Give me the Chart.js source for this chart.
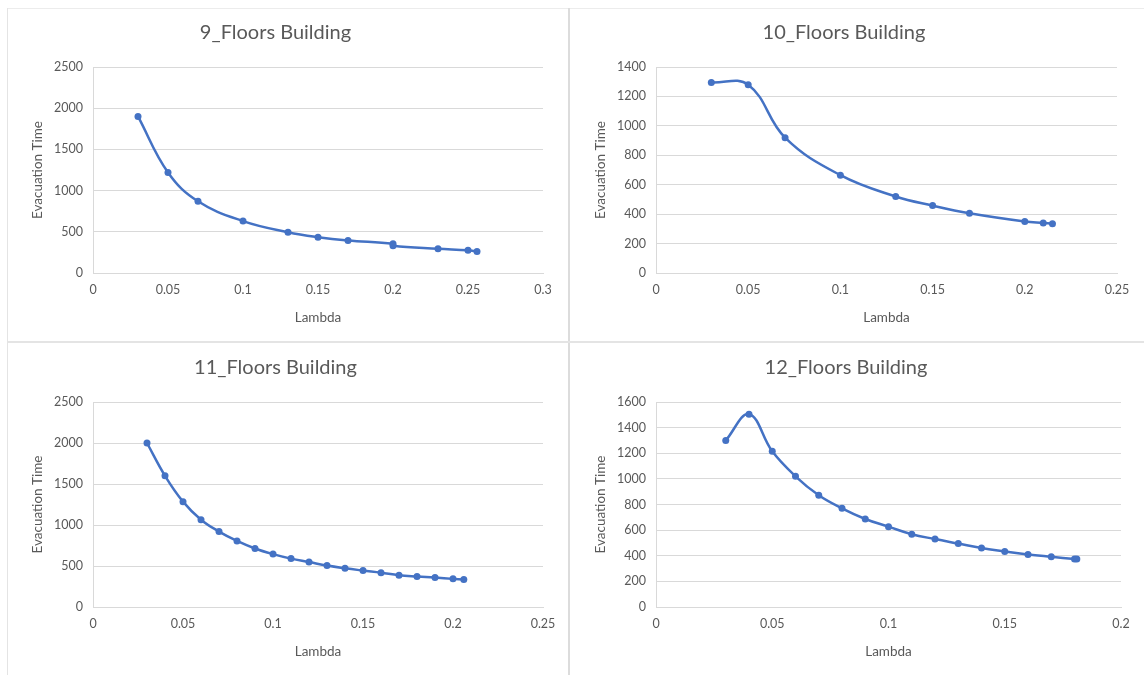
<!DOCTYPE html>
<html>
<head>
<meta charset="utf-8">
<script src="https://cdn.jsdelivr.net/npm/chart.js@4.4.0/dist/chart.umd.min.js"></script>
<style>
    body { margin: 0; background: #fff; }
    #wrap { position: relative; width: 1144px; height: 675px; overflow: hidden; background: #fff; }
    .panel { position: absolute; }
    .rule { position: absolute; background: #dcdcdc; }
</style>
</head>
<body>
<div id="wrap">
    <div class="rule" style="left:7px;top:8px;width:1137px;height:1px;background:#ececec"></div>
    <div class="rule" style="left:7px;top:8px;width:1px;height:667px;background:#e4e4e4"></div>
    <div class="rule" style="left:568px;top:8px;width:2px;height:667px"></div>
    <div class="rule" style="left:7px;top:341px;width:1137px;height:2px;background:#e4e4e4"></div>

    <div class="panel" style="left:8px;top:9px"><canvas id="chart9" width="560" height="332"></canvas></div>
    <div class="panel" style="left:571px;top:9px"><canvas id="chart10" width="573" height="332"></canvas></div>
    <div class="panel" style="left:8px;top:344px"><canvas id="chart11" width="560" height="331"></canvas></div>
    <div class="panel" style="left:571px;top:344px"><canvas id="chart12" width="573" height="331"></canvas></div>
</div>
<script>
// 9 floors
const lambda9 = [0.03, 0.05, 0.07, 0.1, 0.13, 0.15, 0.17, 0.2, 0.2, 0.23, 0.25, 0.256];
const time9 = [1900, 1220, 870, 630, 495, 435, 395, 355, 330, 293, 275, 260];

// 10 floors
const lambda10 = [0.03, 0.05, 0.07, 0.1, 0.13, 0.15, 0.17, 0.2, 0.21, 0.215];
const time10 = [1295, 1280, 920, 665, 520, 458, 406, 350, 340, 335];

// 11 floors
const lambda11 = [0.03, 0.04, 0.05, 0.06, 0.07, 0.08, 0.09, 0.1, 0.11, 0.12, 0.13,
                  0.14, 0.15, 0.16, 0.17, 0.18, 0.19, 0.2, 0.206];
const time11 = [2000, 1600, 1285, 1065, 920, 806, 714, 645, 590, 548, 505,
                472, 444, 418, 388, 372, 359, 343, 335];

// 12 floors
const lambda12 = [0.03, 0.04, 0.05, 0.06, 0.07, 0.08, 0.09, 0.1, 0.11, 0.12,
                  0.13, 0.14, 0.15, 0.16, 0.17, 0.18, 0.181];
const time12 = [1300, 1505, 1215, 1020, 872, 770, 687, 627, 568, 530,
                495, 460, 434, 410, 392, 375, 374];

// axis ranges [max, step]
const xAxis9 = [0.3, 0.05], yAxis9 = [2500, 500];
const xAxis10 = [0.25, 0.05], yAxis10 = [1400, 200];
const xAxis11 = [0.25, 0.05], yAxis11 = [2500, 500];
const xAxis12 = [0.2, 0.05], yAxis12 = [1600, 200];

const blue = '#4472C4';
const grey = '#595959';
const gridGrey = '#d9d9d9';
const fontFamily = 'Lato, "Open Sans", sans-serif';

function makeChart(id, title, xs, ys, xAxis, yAxis, rightPad) {
    const ctx = document.getElementById(id);
    return new Chart(ctx, {
        type: 'line',
        data: {
            datasets: [{
                data: xs.map((x, i) => ({ x: x, y: ys[i] })),
                borderColor: blue,
                backgroundColor: blue,
                borderWidth: 2.5,
                pointRadius: 3.5,
                pointBorderWidth: 0,
                tension: 0.4,
                fill: false
            }]
        },
        options: {
            responsive: false,
            animation: false,
            layout: { padding: { left: 0, right: rightPad, top: 0, bottom: 0 } },
            plugins: {
                legend: { display: false },
                tooltip: { enabled: false },
                title: {
                    display: true,
                    text: title,
                    color: grey,
                    font: { family: fontFamily, size: 20, weight: 'normal' },
                    padding: { top: 12, bottom: 22 }
                }
            },
            scales: {
                x: {
                    type: 'linear',
                    min: 0,
                    max: xAxis[0],
                    afterFit: function(scale) { scale.height = 68; },
                    ticks: {
                        stepSize: xAxis[1],
                        color: grey,
                        padding: 9,
                        font: { family: fontFamily, size: 12.5 },
                        maxRotation: 0,
                        callback: function(v) { return String(+v.toFixed(2)); }
                    },
                    grid: { display: false, drawTicks: false },
                    border: { display: true, color: gridGrey },
                    title: {
                        display: true,
                        text: 'Lambda',
                        color: grey,
                        font: { family: fontFamily, size: 13.5 },
                        padding: { top: 0, bottom: 15 }
                    }
                },
                y: {
                    min: 0,
                    max: yAxis[0],
                    afterFit: function(scale) { scale.width = 85; },
                    ticks: {
                        stepSize: yAxis[1],
                        color: grey,
                        padding: 10,
                        font: { family: fontFamily, size: 12.5 },
                        callback: function(v) { return String(v); }
                    },
                    grid: { color: gridGrey, drawTicks: false },
                    border: { display: true, color: gridGrey },
                    title: {
                        display: true,
                        text: 'Evacuation Time',
                        color: grey,
                        font: { family: fontFamily, size: 13.5 },
                        padding: { top: 22, bottom: 0 }
                    }
                }
            }
        }
    });
}

makeChart('chart9', '9_Floors Building', lambda9, time9, xAxis9, yAxis9, 25);
makeChart('chart10', '10_Floors Building', lambda10, time10, xAxis10, yAxis10, 27);
makeChart('chart11', '11_Floors Building', lambda11, time11, xAxis11, yAxis11, 25);
makeChart('chart12', '12_Floors Building', lambda12, time12, xAxis12, yAxis12, 23);
</script>
</body>
</html>
